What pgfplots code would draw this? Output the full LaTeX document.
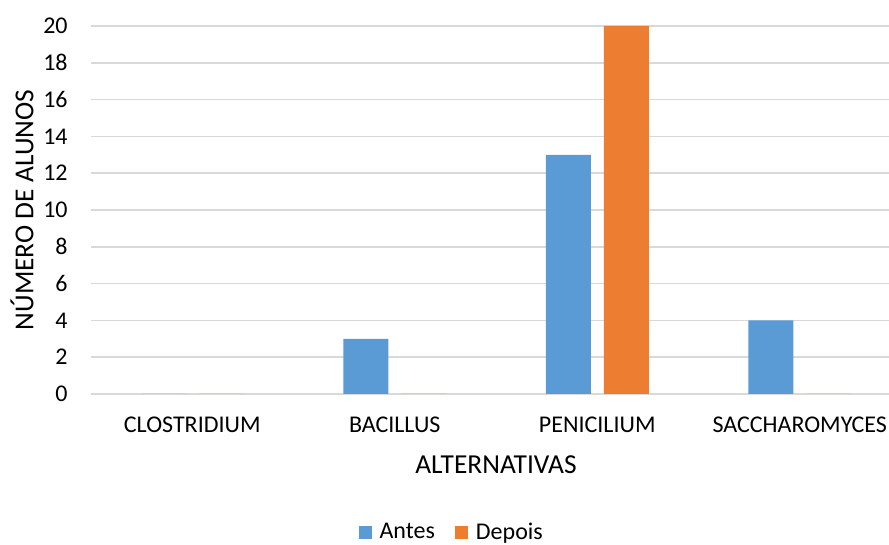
\documentclass[border=0pt]{standalone}
\usepackage{pgfplots}
\pgfplotsset{compat=1.18}
\usepackage{fontspec}
\setmainfont{Carlito}

\definecolor{antes}{HTML}{5B9BD5}
\definecolor{depois}{HTML}{ED7D31}
\definecolor{gridgray}{HTML}{D9D9D9}

\begin{document}
\fontsize{12pt}{14pt}\selectfont
\begin{tikzpicture}
\begin{axis}[
    at={(45.5pt,75.5pt)}, anchor=south west,
    scale only axis,
    width=405pt, height=184pt,
    ybar=6.5pt, bar width=22.5pt,
    xmin=-0.5, xmax=3.5,
    ymin=0, ymax=20,
    ytick={0,2,...,20},
    xtick={0,1,2,3},
    xticklabels={CLOSTRIDIUM, BACILLUS, PENICILIUM, SACCHAROMYCES},
    major tick length=0pt,
    axis line style={draw=none},
    ymajorgrids,
    major grid style={gridgray, line width=0.75pt},
    /pgf/number format/assume math mode=true,
    yticklabel style={anchor=east, inner sep=0pt, xshift=-11.5pt},
    xticklabel style={anchor=base, inner sep=0pt, yshift=-19.5pt},
    xlabel={ALTERNATIVAS},
    ylabel={NÚMERO DE ALUNOS},
    xlabel style={at={(axis description cs:0.5,-0.2147)}, anchor=base, inner sep=0pt,
        font=\fontsize{13.7pt}{16pt}\selectfont},
    ylabel style={at={(axis description cs:-0.0852,0.5)}, anchor=center, inner sep=0pt,
        font=\fontsize{13.7pt}{16pt}\selectfont},
    legend columns=2,
    legend style={at={(0.449,-0.377)}, anchor=center, draw=none, fill=none,
        inner sep=0pt,
        nodes={inner xsep=4pt, inner ysep=1pt},
        /tikz/every even column/.append style={column sep=6pt}},
    legend cell align=left,
    legend image code/.code={\fill[#1] (0pt,-3.25pt) rectangle (6.5pt,3.25pt);},
]
\addplot[fill=antes, draw=none] coordinates {(0,0) (1,3) (2,13) (3,4)};
\addplot[fill=depois, draw=none] coordinates {(0,0) (1,0) (2,20) (3,0)};
\legend{Antes, Depois}
\end{axis}
\pgfresetboundingbox
\path[use as bounding box] (0,0) rectangle (444.5pt,272.5pt);
\end{tikzpicture}
\end{document}
